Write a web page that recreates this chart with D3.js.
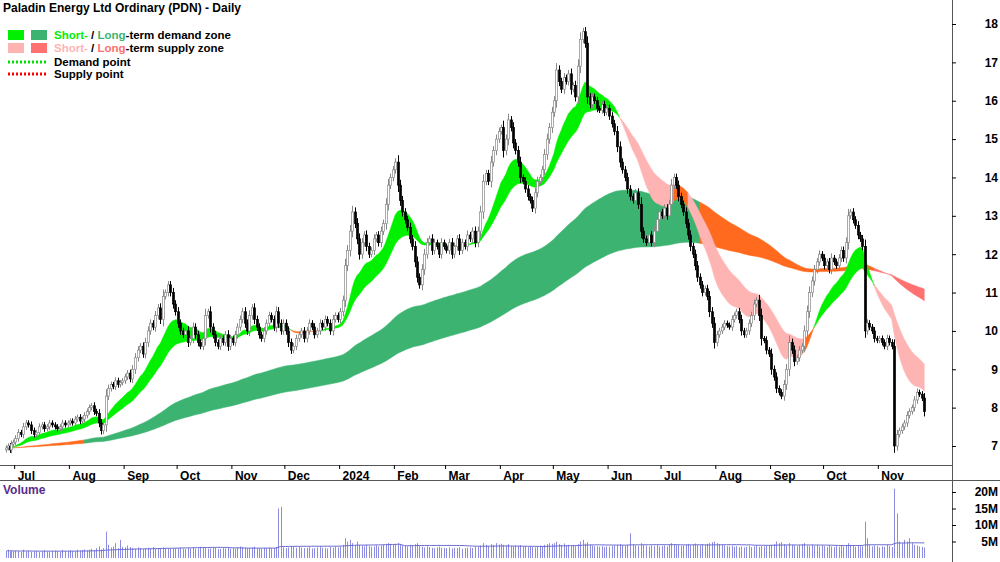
<!DOCTYPE html>
<html><head><meta charset="utf-8">
<script src="https://cdn.jsdelivr.net/npm/d3@7"></script>
<style>
body{margin:0;background:#fff;}
text{font-family:"Liberation Sans",Arial,sans-serif;}
</style></head>
<body>
<script>
const W = 1000, H = 562;
const plotRight = 952;

// month start dates and the closes / volumes (M) for each month
const months = ["2023-06-26","2023-07-01","2023-08-01","2023-09-01","2023-10-01","2023-11-01","2023-12-01",
  "2024-01-01","2024-02-01","2024-03-01","2024-04-01","2024-05-01","2024-06-01","2024-07-01",
  "2024-08-01","2024-09-01","2024-10-01","2024-11-01","2024-11-28"];
const closes = [
  [6.95,7.0,6.9,7.05,7.1],
  [7.2,7.35,7.3,7.5,7.6,7.55,7.4,7.3,7.35,7.5,7.55,7.45,7.5,7.6,7.55,7.5,7.45,7.5,7.6,7.55,7.6],
  [7.65,7.6,7.7,7.75,7.65,7.7,7.8,7.9,8.0,8.05,7.9,7.85,7.6,7.4,7.55,8.3,8.5,8.6,8.55,8.7,8.6,8.65,8.7],
  [8.8,8.9,8.75,9.0,9.3,9.5,9.6,9.4,9.7,10.0,10.2,10.1,10.4,10.6,10.3,10.9,11.0,11.2,11.0,10.7,10.5],
  [10.2,10.0,9.9,10.0,9.7,9.8,10.1,9.9,9.7,9.6,9.8,10.4,10.5,10.1,9.9,9.7,9.6,9.8,9.7,9.9,9.6,9.8],
  [9.7,9.9,10.1,10.3,10.5,10.2,10.0,10.4,10.6,10.3,10.1,9.9,9.8,10.0,10.2,10.4,10.3,10.1,10.5,10.2,10.0,10.2],
  [10.0,9.7,9.5,9.6,9.8,9.9,10.0,9.8,10.0,10.2,10.1,9.9,10.0,10.2,10.1,10.3,10.2,10.0,10.3,10.4,10.3],
  [10.5,10.8,11.7,12.1,12.6,13.1,12.8,12.4,12.0,12.3,12.5,12.2,12.0,12.1,12.4,12.5,12.3,12.6,12.8,13.3,13.8,14.0,14.2],
  [14.4,13.8,13.4,13.1,12.9,12.7,12.4,12.2,11.8,11.4,11.2,11.6,12.0,12.3,12.4,12.1,12.3,12.2,12.0,12.3,12.2],
  [12.1,12.3,12.0,12.2,12.4,12.1,12.3,12.2,12.5,12.4,12.6,12.3,12.6,13.1,13.9,14.1,13.9,14.4,14.7,15.0,15.2],
  [15.3,14.7,15.0,15.5,15.3,14.9,14.7,14.4,14.0,13.9,13.7,13.5,13.4,13.2,13.6,13.9,14.0,14.2,14.6,15.0,15.3,15.7],
  [16.0,16.8,16.5,16.3,16.6,16.5,16.7,16.3,16.4,16.1,16.9,17.6,17.8,17.5,16.1,15.9,16.1,16.0,15.8,15.75,15.9,15.7,15.8],
  [15.6,15.4,15.2,14.8,14.4,14.2,14.0,13.7,13.5,13.4,13.6,13.3,12.6,12.4,12.3,12.5,12.3,12.6,12.9,13.1],
  [13.0,13.2,13.0,13.3,13.8,14.0,13.8,13.5,13.3,13.1,12.8,12.5,12.2,12.0,11.7,11.4,11.2,11.0,11.1,10.9,10.5,10.2,9.7],
  [9.9,10.0,10.1,10.2,10.15,10.1,10.3,10.4,10.5,10.3,10.0,9.9,10.0,10.2,10.4,10.7,10.8,10.4,9.8,9.75,9.5,9.4],
  [9.0,8.8,8.5,8.4,8.3,8.6,9.0,9.7,9.5,9.2,9.3,9.5,9.6,10.0,10.5,11.0,11.3,11.6,11.8,12.0,11.9],
  [11.7,11.8,11.6,11.9,11.8,11.7,11.9,12.1,11.9,12.3,13.0,13.1,12.9,12.75,12.5,12.4,12.2,10.0,10.2,10.1,10.0,9.8,9.75],
  [9.8,9.7,9.6,9.8,9.7,9.6,7.0,7.3,7.4,7.5,7.6,7.8,7.9,8.0,8.2,8.4,8.35,8.25,7.9]
];
const volumes = [
  [2,2.5,2,2.2,2],
  [2.2,2,1.8,2.5,2,2.2,1.9,2,2.1,1.8,2,2.3,2,1.9,2.1,2.2,2,1.8,2.4,2,2.1],
  [2.3,2.1,2,2.5,2.2,2.4,2.6,2.3,2.5,2.8,2.4,3,3.5,2.6,3,8,4,3.2,3.5,4.5,3,5.5,3.4],
  [3.2,3.8,3.3,3,2.8,3.2,3,2.7,2.8,3.1,2.9,3.3,2.8,3,2.9,3.2,3,2.7,2.8,3,2.9],
  [2.9,3.1,2.8,2.7,3,2.9,3.3,2.8,2.9,3.4,3.1,3,2.8,2.9,3,3.1,2.7,2.8,3,2.9,3.2,2.8],
  [3,2.8,3.2,3.5,3.3,3.1,2.9,3,3.2,3.4,3,2.9,2.8,3.1,3,3.2,2.9,3,3.3,15,15.5,3.2],
  [3,3.2,3.4,3.5,3.1,3.4,3.2,3,3.1,3.3,2.9,3,3.2,3.5,3.1,3,2.9,3.3,3.1,3.4,3.2],
  [3.5,4,6,5,5.5,4.5,4,5,4,3.8,3.5,4,3.6,3.4,3.5,3.8,3.5,3.7,4,4.2,4.5,4.3,4],
  [4.2,4.5,4,3.8,3.6,3.5,4,3.8,4.2,4.5,3.6,3.4,3.2,3.5,3.3,3.1,3,3.2,3.4,3.1,3],
  [3,3.2,2.9,3.1,3,3.3,2.8,3,3.1,3.2,3,3.4,3.5,3.8,4.5,4,3.6,4.2,4,4.5,4.1],
  [4.3,4,3.8,4.2,3.6,3.5,3.8,3.6,3.9,3.4,3.5,3.3,3.6,3.4,3.2,3.5,3.8,3.6,4,4.2,4.5,4.3],
  [4.5,5,4.2,4,4.4,3.8,4,3.7,3.9,3.6,4.2,5,5.5,4.4,4.8,4,3.8,3.6,3.5,3.4,3.6,3.3,3.5],
  [3.4,3.6,3.8,4,4.2,3.9,3.7,4,7.5,4.2,3.8,3.6,4.5,4,3.7,3.5,3.8,3.6,3.9,3.5],
  [3.6,3.8,3.5,4,4.5,4.2,3.8,4,3.6,3.8,4,4.2,3.9,4.1,4.4,4,3.8,4.2,4,4.3,4.5,4.8,5],
  [4.5,4.2,4,3.8,3.6,3.5,3.7,3.4,3.6,3.3,3.5,3.2,3.4,3.6,3.3,3.5,3.8,3.4,3.6,3.5,3.7,3.8],
  [4,4.2,5,4.5,4.8,4.2,3.9,4.5,4,3.8,3.6,3.9,4.2,4.5,3.8,3.6,4,3.7,3.9,3.5,3.8],
  [3.6,3.4,3.8,3.5,3.3,3.6,3.4,3.7,3.5,3.8,4.5,4,3.6,3.4,3.8,3.5,3.6,11,6,4,3.5,3.8,3.6],
  [3.2,3.5,3.4,4,3.6,3.3,21,13.5,5,4.5,5.5,5,6,4.5,4,3.8,3.5,3.4,3.2]
];
const priceTicks = [7,8,9,10,11,12,13,14,15,16,17,18];
const volTicks = [5,10,15,20];
const tickMonths = ["2023-07-01","2023-08-01","2023-09-01","2023-10-01","2023-11-01","2023-12-01","2024-01-01",
  "2024-02-01","2024-03-01","2024-04-01","2024-05-01","2024-06-01","2024-07-01","2024-08-01","2024-09-01","2024-10-01","2024-11-01"];
const tickLabels = ["Jul","Aug","Sep","Oct","Nov","Dec","2024","Feb","Mar","Apr","May","Jun","Jul","Aug","Sep","Oct","Nov"];

const col = {
  stDemand: "#00f000", ltDemand: "#3cb371", stSupply: "#ffb4b4", ltSupply: "#ff7070", mixed: "#ff6a1e"
};

const parse = d3.utcParse("%Y-%m-%d");
const x = d3.scaleUtc().domain([parse("2023-06-23"), parse("2024-12-13")]).range([0, plotRight]);
const y = d3.scaleLinear().domain([7, 18]).range([446, 24]);
const yv = d3.scaleLinear().domain([0, 20]).range([558, 492]);

// build bars: each month's values spread evenly across that month
let bars = [];
closes.forEach((arr, m) => {
  const a = parse(months[m]), b = parse(months[m + 1]);
  arr.forEach((c, i) => {
    const t = new Date(+a + (i + 0.5) / arr.length * (b - a));
    bars.push({ date: t, close: c, vol: volumes[m][i] });
  });
});
bars.forEach((d, i) => {
  d.open = i ? bars[i - 1].close : d.close - 0.05;
  const wick = Math.min(Math.abs(d.close - d.open) * 0.2, 0.12) + 0.06;
  d.high = Math.max(d.open, d.close) + wick;
  d.low = Math.min(d.open, d.close) - wick;
});

function ema(vals, n) {
  const k = 2 / (n + 1); let e = vals[0];
  return vals.map(v => (e = v * k + e * (1 - k)));
}
const cl = bars.map(d => d.close);
const s1 = ema(cl, 16), s2 = ema(cl, 32), l1 = ema(cl, 130), l2 = ema(cl, 240);
const volAvg = bars.map((d, i) => d3.mean(bars.slice(Math.max(0, i - 49), i + 1), e => e.vol));

const svg = d3.select("body").append("svg").attr("width", W).attr("height", H);

// draws the band between two series, grouping consecutive segments of one colour
function band(a, b, colorFn) {
  const g = svg.append("g");
  const area = d3.area().x(i => x(bars[i].date)).y0(i => y(a[i])).y1(i => y(b[i]));
  let start = 0, cur = colorFn(0);
  for (let i = 1; i <= bars.length - 1; i++) {
    const c = i < bars.length - 1 ? colorFn(i) : null;
    if (c !== cur) {
      g.append("path").attr("d", area(d3.range(start, i + 1))).attr("fill", cur).attr("stroke", cur).attr("stroke-width", 0.5);
      start = i; cur = c;
    }
  }
}
const n = bars.length;
band(l1, l2, i => {
  if (i > n - 22) return col.ltSupply;
  return (l1[i] - l2[i]) / l2[i] > 0.012 && s1[i] > Math.min(l1[i], l2[i]) + 0.3 ? col.ltDemand : col.mixed;
});
band(s1, s2, i => {
  if (s1[i] >= s2[i]) return col.stDemand;
  const slope = (s2[i] - s2[Math.max(0, i - 5)]) / s2[i];
  return slope < -0.012 ? col.stSupply : col.mixed;
});

// candles
const cg = svg.append("g");
bars.forEach(d => {
  const cx = Math.round(x(d.date)) + 0.5;
  const up = d.close >= d.open;
  cg.append("line").attr("x1", cx).attr("x2", cx).attr("y1", y(d.high)).attr("y2", y(d.low))
    .attr("stroke", up ? "#888" : "#000").attr("stroke-width", 1);
  const top = y(Math.max(d.open, d.close)), bot = y(Math.min(d.open, d.close));
  cg.append("rect").attr("x", cx - 1).attr("width", 2).attr("y", top).attr("height", Math.max(1, bot - top))
    .attr("fill", up ? "#fff" : "#000").attr("stroke", up ? "#888" : "#000").attr("stroke-width", 0.7);
});

// frame lines
svg.append("line").attr("x1", plotRight + 0.5).attr("x2", plotRight + 0.5).attr("y1", 0).attr("y2", H).attr("stroke", "#555");
svg.append("line").attr("x1", 0).attr("x2", plotRight).attr("y1", 465.5).attr("y2", 465.5).attr("stroke", "#555");
svg.append("line").attr("x1", 0).attr("x2", W).attr("y1", 480.5).attr("y2", 480.5).attr("stroke", "#555");

// right price axis
const ya = svg.append("g").attr("transform", `translate(${plotRight},0)`)
  .call(d3.axisRight(y).tickValues(priceTicks).tickSize(4).tickFormat(d3.format("d")));
ya.select(".domain").remove();
ya.selectAll("text").attr("x", 46).attr("text-anchor", "end").style("font-size", "12px").style("font-weight", "bold").attr("fill", "#000");

// volume axis
const va = svg.append("g").attr("transform", `translate(${plotRight},0)`)
  .call(d3.axisRight(yv).tickValues(volTicks).tickSize(4).tickFormat(d => d + "M"));
va.select(".domain").remove();
va.selectAll("text").attr("x", 46).attr("text-anchor", "end").style("font-size", "12px").style("font-weight", "bold").attr("fill", "#000");

// date axis
const xa = svg.append("g").attr("transform", "translate(0,465)")
  .call(d3.axisBottom(x).tickValues(tickMonths.map(parse)).tickSize(4).tickFormat((d, i) => tickLabels[i]));
xa.select(".domain").remove();
xa.selectAll("text").attr("x", 3).attr("y", 6).attr("dy", "0.71em").attr("text-anchor", "start")
  .style("font-size", "12px").style("font-weight", "bold").attr("fill", "#000");

// volume bars and average
svg.append("g").selectAll("line").data(bars).join("line")
  .attr("x1", d => Math.round(x(d.date)) + 0.5).attr("x2", d => Math.round(x(d.date)) + 0.5)
  .attr("y1", yv(0)).attr("y2", d => yv(d.vol)).attr("stroke", "#8c8ce0").attr("stroke-width", 1);
svg.append("path").datum(volAvg)
  .attr("d", d3.line().x((d, i) => x(bars[i].date)).y(d => yv(d)))
  .attr("fill", "none").attr("stroke", "#6a6ad0").attr("stroke-width", 1);
svg.append("text").attr("x", 3).attr("y", 494).text("Volume")
  .style("font-size", "12px").style("font-weight", "bold").attr("fill", "#5b2c8c");

// title and legend
svg.append("text").attr("x", 3).attr("y", 12).text("Paladin Energy Ltd Ordinary (PDN) - Daily")
  .style("font-size", "12px").style("font-weight", "bold");
const lg = svg.append("g").style("font-size", "11.5px").style("font-weight", "bold");
lg.append("rect").attr("x", 8).attr("y", 30).attr("width", 16).attr("height", 10).attr("fill", col.stDemand);
lg.append("rect").attr("x", 31).attr("y", 30).attr("width", 16).attr("height", 10).attr("fill", col.ltDemand);
lg.append("rect").attr("x", 8).attr("y", 43).attr("width", 16).attr("height", 10).attr("fill", col.stSupply);
lg.append("rect").attr("x", 31).attr("y", 43).attr("width", 16).attr("height", 10).attr("fill", col.ltSupply);
const t1 = lg.append("text").attr("x", 54).attr("y", 39);
t1.append("tspan").attr("fill", col.stDemand).text("Short-");
t1.append("tspan").text(" / ");
t1.append("tspan").attr("fill", col.ltDemand).text("Long");
t1.append("tspan").text("-term demand zone");
const t2 = lg.append("text").attr("x", 54).attr("y", 52);
t2.append("tspan").attr("fill", col.stSupply).text("Short-");
t2.append("tspan").text(" / ");
t2.append("tspan").attr("fill", col.ltSupply).text("Long");
t2.append("tspan").text("-term supply zone");
lg.append("line").attr("x1", 8).attr("x2", 47).attr("y1", 62).attr("y2", 62).attr("stroke", "#00e000").attr("stroke-width", 3).attr("stroke-dasharray", "2,2");
lg.append("line").attr("x1", 8).attr("x2", 47).attr("y1", 74).attr("y2", 74).attr("stroke", "#ff0000").attr("stroke-width", 3).attr("stroke-dasharray", "2,2");
lg.append("text").attr("x", 54).attr("y", 66).text("Demand point");
lg.append("text").attr("x", 54).attr("y", 78).text("Supply point");
</script>
</body></html>
